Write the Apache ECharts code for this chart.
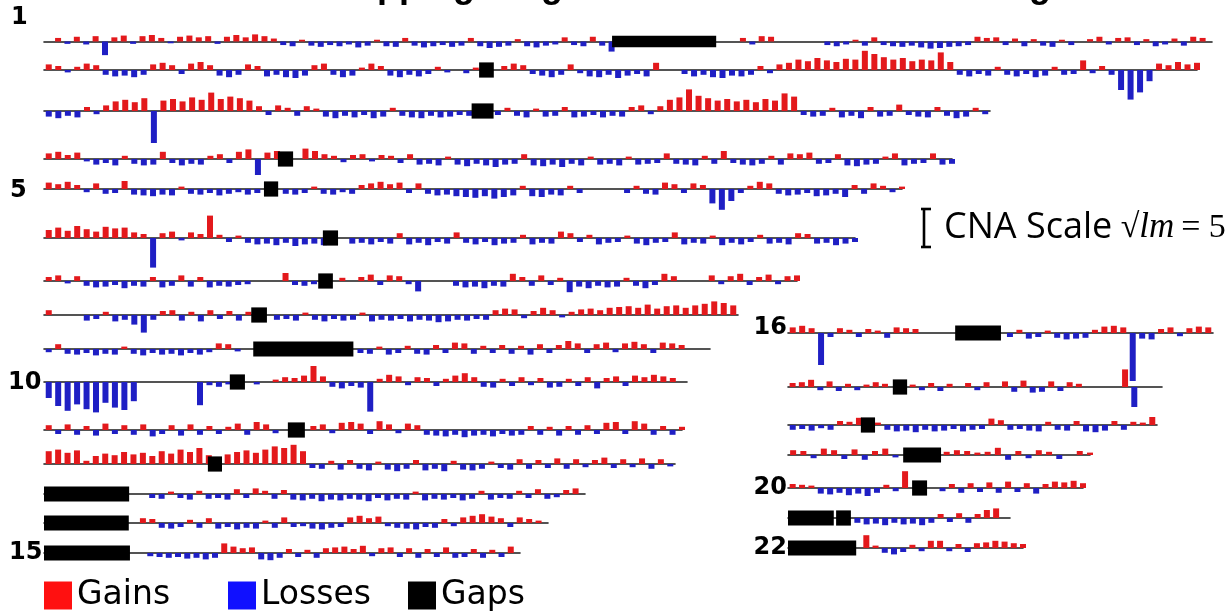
<!DOCTYPE html>
<html><head><meta charset="utf-8">
<script src="https://cdn.jsdelivr.net/npm/echarts@6.0.0/dist/echarts.min.js"></script>
<style>html,body{margin:0;padding:0;background:#fff}#c{width:1229px;height:613px}</style>
</head><body><div id="c"></div>
<script>
// ---------------- DATA ----------------
const TITLE = 'CNA Mapping Large Scale Chromosome Changes';
const chromNames = ['1','2','3','4','5','6','7','8','9','10','11','12','13','14','15','16','17','18','19','20','21','22'];
const chromLengthsMb = [249,243,198,191,181,171,159,146,141,136,135,134,115,107,103,90,81,78,59,63,48,51];
const BIN_MB = 2;           // each value below covers 2 Mb
const SCALE_VALUE = 5;      // CNA scale bar, sqrt(lm)
const legendNames = ['Gains','Losses','Gaps'];
const labelledChroms = ['1','5','10','15','16','20','22'];

// CNA values (sqrt(lm) units), one per 2 Mb bin; + gain, - loss
const chr1 = [0,.6,-.4,.8,-.5,.9,-2.3,.7,1.0,-.4,
.9,1.1,.6,-.3,.8,1.0,.7,.9,-.4,.8,
1.1,.7,1.2,.9,.5,-.6,-.8,.3,-.7,-.9,
-.6,-.8,-.5,-1.0,-.7,.3,-.8,-.9,.6,-.7,
-1.0,-.8,-.6,-.9,-.7,.6,-.8,-1.1,-.9,-.7,
.4,-.8,-1.0,-.7,-.5,.7,-.6,-.8,.8,-.7,
-1.7,0,0,0,0,0,0,0,0,0,
0,0,0,0,.6,-.5,.9,.8,0,0,
0,0,0,-.6,-.8,-.5,.3,-.7,.7,-.6,
-.8,-.9,-.7,-1.0,-1.2,-1.1,-.9,-.8,-.6,.8,
.6,.7,-.6,.5,-.8,.4,-.7,-.9,.3,-.6,
0,.4,.8,-.5,.6,.7,-.6,.4,-.8,-.5,
.5,-.7,.8,.6,0];
const chr2 = [.7,.5,-.3,.4,.8,.6,-.6,-.8,-.7,-.9,
-.6,.7,.9,.6,-.5,.8,1.0,.6,-.7,-.9,
-.6,.7,.5,-.8,-.6,-.9,-1.0,-.7,.6,.8,
-.6,-.9,-.7,.3,.8,.5,-.7,-.9,-.6,-.8,
-.5,.4,-.3,0,-.4,.3,0,0,.5,.8,
.6,-.5,-.7,-.9,-.6,.7,-.4,-.8,-.9,-.6,
-1.0,-.7,-.5,-.8,.9,0,0,-.5,-.8,-.6,
-.9,-1.0,-.7,-.8,-.6,.5,-.4,.7,.9,1.3,
1.1,1.5,1.2,1.0,1.4,1.3,2.4,2.0,1.6,1.3,
1.5,1.1,1.3,1.2,2.2,1.0,-.6,-.8,-.5,-.7,
.4,-.6,-.8,-.5,-.9,-.7,.4,-.6,-.5,1.2,
-.4,.5,-.6,-2.5,-3.7,-2.8,-1.4,.8,.6,1.0,
.7,.9];
const chr3 = [-.7,-.9,-.6,-.8,.5,-.4,.7,1.2,1.4,1.1,
1.6,-4.0,1.3,1.5,1.2,1.7,1.4,2.3,1.5,1.8,
1.6,1.3,.6,-.5,.7,.4,-.6,.6,.3,-.7,
-.9,-.6,-.8,-.5,-.9,-.7,.4,-.6,-.8,-.9,
-.6,-.8,-.7,-.5,-.6,0,0,-.5,.4,-.6,
-.8,.3,-.7,-.6,.5,-.8,-.7,-.5,-.8,-.6,
-.7,.5,.7,-.4,.6,1.4,1.7,2.7,1.9,1.6,
1.3,1.5,1.2,1.4,1.1,1.5,1.3,2.2,1.8,-.5,
-.7,-.6,.4,-.8,-.6,-.9,.5,-.7,-.6,.8,
-.5,-.7,-.8,.5,-.6,-.9,-.7,.4,-.4];
const chr4 = [.7,.9,.5,.8,-.3,-.7,-.5,-.8,.4,-.6,
-.8,-.7,.9,-.5,-.8,-.6,-.7,.4,.6,-.5,
.9,1.2,-2.0,.8,1.0,0,0,1.3,1.0,.6,
.4,-.4,.5,.6,-.3,.5,.4,-.5,.6,-.7,
-.6,-.8,.3,-.7,-.9,-.6,-.8,-1.0,-.7,-.6,
.6,-.8,-.9,-.7,-1.0,-.6,-.8,.3,-.7,-.6,
-.8,.3,-.7,-.6,-.5,.7,-.6,-.7,-.8,.4,
-.6,1.0,-.5,-.7,-.8,-.6,.4,-.7,.7,.6,
.8,-.6,-.5,.6,-.8,-.9,-.7,-.6,.3,.7,
-.8,-.6,-.5,.7,-.7,-.6];
const chr5 = [.8,.6,.9,.5,-.4,.7,-.6,-.5,1.0,-.7,
-.8,-.9,-.7,-.8,.3,-.6,-.7,-.5,-.8,-.6,
-.4,-.7,-.5,0,0,-.6,-.7,-.5,.3,-.6,
-.7,-.4,-.6,.5,.7,.9,.6,.8,-.5,.7,
-.6,-.8,-.7,-.9,-1.0,-1.1,-.9,-1.2,-1.0,-.8,
.4,-.9,-1.0,-.7,-.8,.4,-.5,0,0,0,
0,-.5,.4,-.6,-.7,.8,.6,-.5,.7,.5,
-1.8,-2.6,-1.5,-.5,.4,.9,.7,-.6,-.8,-.7,
-.5,-.9,-.8,-.6,-1.0,.5,-.6,.7,.4,-.4,
.3];
const chr6 = [1.0,1.3,.9,1.5,1.1,.8,1.4,1.2,1.3,.7,
.5,-3.7,.6,.8,-.3,.7,.5,2.8,.4,-.5,
.3,-.6,-.8,-.7,-.9,-.6,-1.0,-.8,-.7,-.9,
0,0,-.7,-.6,-.8,-.5,-.7,.6,-.8,-.6,
-.9,-.5,-.7,.7,-.6,-.8,-.5,-.9,-.7,-.6,
.4,-.8,-.6,-.7,.8,.6,-.5,.4,-.8,-.6,
-.5,.3,-.7,-.9,-.6,-.5,.7,-.8,-.6,-.7,
.3,-.9,-.6,-.8,-.5,.4,-.7,-.6,-.8,.6,
.5,-.7,-.6,-.9,-.7,-.5];
const chr7 = [.5,.7,-.3,.6,-.6,-.8,-.7,-.5,-.9,-.6,
-.7,.5,-.8,-.6,.7,-.7,.5,-.8,-.6,-.7,
-.5,-.4,0,0,0,1.0,-.5,-.6,-.4,0,
0,.4,0,.5,.8,-.5,.7,.6,-.4,-1.3,
0,0,0,-.6,-.8,-.7,-.9,-.6,-.7,.9,
.5,-.6,.7,-.5,.4,-1.4,-.7,-.9,-.6,-.8,
-.7,.4,-.6,-.9,-.5,.9,.6,0,0,0,
.7,-.4,.6,.9,-.5,.5,.8,-.4,.6,.7];
const chr8 = [.6,0,0,0,-.7,-.5,.4,-.8,-.6,-1.2,
-2.2,-.6,.5,.6,-.7,.4,-.8,.6,-.5,.5,
-.7,.4,0,0,-.6,-.5,-.7,.3,-.6,-.8,
-.5,-.7,-.6,.3,-.8,-.6,-.7,-.5,-.8,-.6,
-.7,-.9,-.8,-.6,-.7,-.5,-.6,.6,.8,.7,
-.4,.5,.9,.6,-.3,.4,.7,.8,.6,.9,
1.0,1.1,.9,1.3,.8,1.1,1.2,.9,1.2,1.4,
1.7,1.5,1.2];
const chr9 = [-.4,.6,-.6,-.7,-.5,-.8,-.6,-.7,.3,-.6,
-.8,-.5,-.7,-.6,-.8,-.5,-.7,-.4,.7,.6,
-.3,0,0,0,0,0,0,0,0,0,
0,0,0,-.5,-.6,.3,-.7,-.5,.4,-.6,
-.7,.5,-.5,.8,.7,-.6,.4,-.5,.5,-.6,
.4,-.7,.6,-.5,.5,1.0,.7,-.5,.6,.8,
-.4,.7,.9,.6,-.5,.8,.7,.5,0,0,
0];
const chr10 = [-2.0,-3.0,-3.6,-2.8,-3.4,-3.8,-2.6,-3.2,-3.5,-2.4,
0,0,0,0,0,0,-2.9,-.4,-.6,-.3,
0,0,-.3,0,.3,.6,.5,.8,2.0,.7,
-.6,-.8,-.5,-.7,-3.7,.4,.9,.7,-.4,.6,
.5,-.5,.4,.8,1.1,.6,-.6,-.7,.4,-.5,
.6,-.4,.5,-.7,-.6,.4,-.5,.6,-.8,.5,
.7,-.5,.8,.6,.9,.7,.5,0];
const chr11 = [.6,-.5,.7,-.6,.5,-.7,.8,-.5,.6,-.6,
.7,-.8,-.5,.6,-.7,.7,-.6,.5,-.5,.4,
.8,-.6,1.0,.7,-.4,0,0,0,.5,.7,
-.4,.9,1.0,.8,-.5,1.1,.7,-.4,.8,.6,
-.6,-.7,-.8,-.6,-.9,-.7,-.6,-.8,-.5,-.7,
-.6,.5,-.6,.4,-.7,.5,-.6,.6,-.5,.9,
1.0,-.5,1.1,.8,-.6,.5,-.6,.4];
const chr12 = [1.6,1.8,1.4,1.7,.4,1.0,1.3,1.1,1.5,1.2,
1.4,1.0,1.6,1.3,1.8,1.5,2.0,1.1,0,1.2,
1.5,1.7,1.4,1.8,2.2,2.0,2.4,1.6,-.5,-.6,
.4,-.7,.5,-.6,-.8,.3,-.7,-.9,-.6,.5,
-.8,-.6,-.9,.4,-.7,-.8,-.6,.3,-.5,-.7,
.6,-.6,.5,-.5,.7,-.6,.6,-.4,.5,.8,
-.5,.6,-.4,.7,-.6,.6,-.3];
const chr13 = [0,0,0,0,0,0,0,0,0,0,
0,-.5,-.6,.3,-.5,-.7,.4,-.6,-.5,-.7,
.6,-.5,.7,.4,-.6,.5,-.7,-.8,-.6,-.9,
-.7,-.8,-.6,-.7,-.9,-.5,-.8,-.6,-.7,.3,
-.8,-.6,-.7,-.5,-.8,-.6,.4,-.7,-.5,-.6,
.4,-.5,.6,-.6,-.4,.5,.7,0];
const chr14 = [0,0,0,0,0,0,0,0,0,0,
.6,.5,-.6,-.7,-.5,.4,-.6,.6,-.7,-.5,
-.8,-.6,-.7,.3,-.6,.7,-.5,-.4,-.7,-.8,
-.6,-.5,.7,.9,.6,.8,-.4,-.6,-.7,-.8,
-.5,-.6,.5,-.4,.7,.9,1.1,.8,.6,-.5,
.7,.5,.3,0];
const chr15 = [0,0,0,0,0,0,0,0,0,0,
0,-.4,-.5,-.6,-.5,-.7,-.6,-.8,-.6,1.2,
.8,.6,.7,-.8,-.9,-.6,.5,-.5,.4,-.6,
.6,.7,.8,.5,.9,-.4,.6,.7,-.5,.6,
-.6,.5,-.5,.7,-.6,-.5,.5,-.6,.4,-.5,
.8,0];
const chr16 = [.7,.9,.6,-4.0,-.5,.6,.4,-.5,.5,.3,
-.6,.7,.6,.5,0,0,0,0,0,0,
0,0,0,-.5,.4,-.7,-.5,.3,-.6,-.8,
-.7,-.6,.4,.8,.9,.7,-6.0,-.7,-.8,.5,
.7,-.4,.6,.8,.7];
const chr17 = [.5,.6,.9,-.4,.7,-.5,.4,-.4,.3,.6,
.4,0,0,.3,-.4,.5,-.5,.4,0,.5,
-.4,.6,0,.7,-.6,.8,-.7,-.6,.7,-.5,
.6,.4,0,0,0,0,2.2,-2.5,0,0,
0];
const chr18 = [-.6,-.5,-.7,-.4,-.6,.5,.4,.9,0,.3,
-.6,-.8,-.7,-.9,-.6,-.8,-.7,-.5,-.8,-.6,
-.5,.8,.6,-.6,-.5,-.7,-.8,.4,-.6,-.7,
.5,-.8,-.9,-.7,.5,-.6,.4,.3,1.0];
const chr19 = [.6,.5,-.4,.8,.6,-.5,.7,-.6,.5,.8,
-.3,0,0,0,0,.4,.6,.5,.3,.4,
.9,-.6,.5,-.4,.6,.4,-.5,0,.5,.3];
const chr20 = [.5,.4,.3,-.7,-.8,-.6,-.9,-.7,-1.0,-.6,
.4,-.4,2.1,0,0,0,-.4,.5,-.6,.6,
-.5,.7,-.6,.8,-.5,.6,-.7,.5,.8,.7,
.9,.6];
const chr21 = [0,0,0,0,0,0,0,-.6,-.8,-.7,
-.9,-.6,-.8,-.7,-.9,-.6,.5,-.5,.6,-.6,
.5,1.0,1.2,0];
const chr22 = [0,0,0,0,0,0,0,0,1.6,.3,
-.6,-.8,-.5,.4,-.4,.9,.9,-.4,.5,-.5,
.6,.7,.9,.8,.6,.5];

// Gaps (centromere / heterochromatin / acrocentric arms), Mb
const gapsMb = [
 [[121.1,143.3]],[[91.7,94.8]],[[89.5,94.1]],[[49.2,52.4]],[[46.4,49.4]],[[58.8,62.0]],
 [[57.9,61.0]],[[43.6,46.9]],[[44.3,65.5]],[[39.3,42.5]],[[51.6,55.2]],[[34.8,37.8]],
 [[0,18.1]],[[0,18.0]],[[0,18.6]],[[35.4,45.1]],[[22.7,25.8]],[[15.4,18.4]],
 [[22.5,29.9]],[[26.5,29.7]],[[0,9.9],[10.4,13.6]],[[0,14.8]]
];

const cna = [chr1,chr2,chr3,chr4,chr5,chr6,chr7,chr8,chr9,chr10,chr11,chr12,chr13,chr14,chr15,chr16,chr17,chr18,chr19,chr20,chr21,chr22];

// ---------------- LAYOUT ----------------
const ROW_Y  = [27,70,111,159,189,238,281,315,349,382,430,464,494,523,553,333,387,425,455,488,518,548];
const ROW_X0 = [44,44,44,44,44,44,44,44,44,44,44,44,44,44,44,788,788,788,788,788,788,788];
const ROW_X1 = [1212,1197,990,952,902,855,797,738,710,687,682,675,585,548,520,1213,1162,1157,1090,1083,1010,1023];
const LABEL_POS = {'1':[11,18,'left'],'5':[10,191,'left'],'10':[8,383,'left'],'15':[9,553,'left'],
                   '16':[787,328,'right'],'20':[787,488,'right'],'22':[787,548,'right']};
const Y_LIM = 7, GRID_H = 112;   // 8 px per sqrt(lm) unit
const GAP_HALF = 0.95;
const BAR_W = 6;
const RED = '#e3191c', BLUE = '#1f1fc4';

function renderGap(params, api){
  const a = api.coord([api.value(0), GAP_HALF]);
  const b = api.coord([api.value(1), -GAP_HALF]);
  return {type:'rect', shape:{x:a[0], y:a[1], width:b[0]-a[0], height:b[1]-a[1]}, style:{fill:'#000'}};
}
function renderScale(params, api){
  const t = api.coord([api.value(0), api.value(2)]);
  const b = api.coord([api.value(0), api.value(1)]);
  const st = {stroke:'#000', lineWidth:2.6};
  return {type:'group', children:[
    {type:'line', shape:{x1:t[0], y1:t[1], x2:b[0], y2:b[1]}, style:st},
    {type:'line', shape:{x1:t[0]-3, y1:t[1]+1, x2:t[0]+7, y2:t[1]+1}, style:st},
    {type:'line', shape:{x1:b[0]-3, y1:b[1]-1, x2:b[0]+7, y2:b[1]-1}, style:st}
  ]};
}

const grid=[], xAxis=[], yAxis=[], series=[];
cna.forEach((vals,i)=>{
  grid.push({left:ROW_X0[i], top:ROW_Y[i]-GRID_H/2, width:ROW_X1[i]-ROW_X0[i], height:GRID_H});
  xAxis.push({type:'value', gridIndex:i, min:0, max:chromLengthsMb[i],
    axisLine:{show:true, onZero:true, lineStyle:{color:'#1c1c1c', width:1.6}},
    axisTick:{show:false}, axisLabel:{show:false}, splitLine:{show:false}});
  yAxis.push({type:'value', gridIndex:i, min:-Y_LIM, max:Y_LIM, show:false, splitLine:{show:false}});
  const gains=[], losses=[];
  vals.forEach((v,k)=>{ const x=k*BIN_MB+BIN_MB/2; if(v>0) gains.push([x,v]); else if(v<0) losses.push([x,v]); });
  series.push({type:'bar', name:'Gains', xAxisIndex:i, yAxisIndex:i, data:gains, barWidth:BAR_W, barGap:'-100%', itemStyle:{color:RED}, silent:true});
  series.push({type:'bar', name:'Losses', xAxisIndex:i, yAxisIndex:i, data:losses, barWidth:BAR_W, barGap:'-100%', itemStyle:{color:BLUE}, silent:true});
  series.push({type:'custom', name:'Gaps', xAxisIndex:i, yAxisIndex:i, data:gapsMb[i], renderItem:renderGap, itemStyle:{color:'#000'}, z:4, silent:true});
});
// scale bar grid
const si = cna.length;
grid.push({left:918, top:208, width:12, height:40});
xAxis.push({type:'value', gridIndex:si, min:0, max:1, show:false});
yAxis.push({type:'value', gridIndex:si, min:0, max:SCALE_VALUE, show:false});
series.push({type:'custom', name:'CNA Scale', xAxisIndex:si, yAxisIndex:si, data:[[0.5,0,SCALE_VALUE]],
  encode:{x:0, y:[1,2]}, renderItem:renderScale, silent:true});

const graphic = [
  {type:'text', x:239, y:-13, style:{text:TITLE, font:'bold 36px "Liberation Sans"', fill:'#000', verticalAlign:'middle'}},
  {type:'text', x:944, y:228, style:{text:'{a|CNA Scale}{b| √}{c|lm}{d|\u2009= '+SCALE_VALUE+'}', verticalAlign:'middle', fill:'#000',
     rich:{a:{fontSize:36, fontFamily:'Open Sans', fill:'#000'},
           b:{fontSize:34, fontFamily:'Liberation Serif', fill:'#000'},
           c:{fontSize:35, fontFamily:'Liberation Serif', fontStyle:'italic', fill:'#000'},
           d:{fontSize:34, fontFamily:'Liberation Serif', fill:'#000'}}}}
];
labelledChroms.forEach(n=>{
  const p = LABEL_POS[n];
  graphic.push({type:'text', x:p[0], y:p[1], style:{text:n, font:'bold 24px "DejaVu Sans"', fill:'#000', align:p[2], verticalAlign:'middle'}});
});

const LEG_COL = {'Gains':'#ff1010','Losses':'#1010ff','Gaps':'#000'};
const LEG_LEFT = [44,228,408];
const legend = legendNames.map((n,i)=>({
  data:[{name:n, itemStyle:{color:LEG_COL[n]}}], left:LEG_LEFT[i], top:579, padding:0,
  icon:'rect', itemWidth:28, itemHeight:28, selectedMode:false,
  textStyle:{fontSize:33, fontFamily:'DejaVu Sans', color:'#000'}
}));

const chart = echarts.init(document.getElementById('c'), null, {renderer:'canvas'});
chart.setOption({animation:false, backgroundColor:'#fff', grid, xAxis, yAxis, series, graphic, legend});
</script></body></html>
